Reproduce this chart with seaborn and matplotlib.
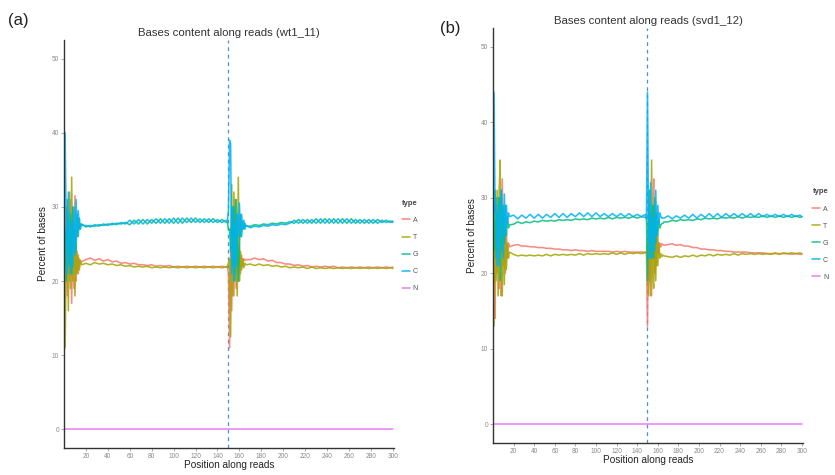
import numpy as np
import pandas as pd
import matplotlib
matplotlib.use("Agg")
import matplotlib.pyplot as plt
import seaborn as sns

# ---------------- data ----------------
positions = (list(range(1, 17)) + list(range(20, 149, 4)) +
             list(range(149, 167)) + list(range(170, 299, 4)) + [300])

types = ["A", "T", "G", "C", "N"]
type_colors = ["#F8766D", "#A3A500", "#00BF7D", "#00B0F6", "#E76BF3"]

n_positions = [1, 150, 300]
n_values = [0.0, 0.0, 0.0]

# panel (a) wt1_11
A_a = [22, 30, 18, 27, 20, 31, 17, 28, 19, 31.5, 20, 24, 21, 23, 22.5, 22.6,
       22.9, 23.1, 22.8, 23.0, 22.7, 22.9, 22.6, 22.7, 22.4, 22.5, 22.3, 22.4, 22.2, 22.2, 22.1, 22.2,
       22.0, 22.1, 22.0, 22.1, 21.9, 22.0, 21.9, 22.0, 21.9, 22.0, 21.9, 22.0, 21.9, 22.0, 21.9, 22.0, 21.9,
       22, 21, 11, 25, 16, 30, 18, 31, 19, 27, 20, 25, 21, 23.5, 22, 23, 22.8, 22.9,
       22.9, 23.1, 22.9, 23.0, 22.7, 22.8, 22.5, 22.5, 22.3, 22.3, 22.1, 22.2, 22.0, 22.1, 21.9, 22.0,
       21.9, 22.0, 21.9, 22.0, 21.8, 21.9, 21.8, 21.9, 21.8, 21.9, 21.8, 21.9, 21.8, 21.9, 21.8, 21.9, 21.8, 21.9]
T_a = [11, 23, 30, 16, 32, 19, 34, 20, 27, 18, 25, 21, 23.5, 21.5, 22.8, 22.2,
       22.4, 22.2, 22.5, 22.3, 22.4, 22.2, 22.3, 22.1, 22.2, 22.0, 22.1, 21.9, 22.0, 21.9, 22.0, 21.8,
       21.9, 21.8, 21.9, 21.8, 21.9, 21.8, 21.9, 21.8, 21.9, 21.8, 21.9, 21.8, 21.9, 21.8, 21.9, 21.8, 21.9,
       21.9, 22.5, 23, 12.5, 33, 18, 32, 21, 28, 18, 34, 20, 24, 21.5, 23, 21.8, 22.4, 22.2,
       22.3, 22.1, 22.3, 22.1, 22.2, 22.0, 22.1, 21.9, 22.0, 21.8, 21.9, 21.8, 21.9, 21.7, 21.9, 21.7,
       21.8, 21.7, 21.8, 21.7, 21.8, 21.7, 21.8, 21.7, 21.8, 21.7, 21.8, 21.7, 21.8, 21.7, 21.8, 21.7, 21.8, 21.7]
G_a = [27, 20, 31, 25, 22, 29, 21, 30, 24, 27, 24, 29, 26, 28.5, 27, 27.7,
       27.3, 27.5, 27.4, 27.6, 27.5, 27.7, 27.6, 27.8, 27.7, 27.9, 27.6, 28.2, 27.7, 28.3, 27.7, 28.3,
       27.8, 28.4, 27.8, 28.4, 27.8, 28.5, 27.8, 28.5, 27.9, 28.5, 27.9, 28.4, 27.9, 28.4, 27.9, 28.3, 27.9,
       28, 27, 27, 24, 30, 22, 30, 20, 31, 26, 20, 24.5, 29, 26, 28, 27, 27.8, 27.4,
       27.4, 27.6, 27.5, 27.7, 27.6, 27.8, 27.7, 27.9, 27.8, 28.0, 27.8, 28.3, 27.8, 28.3, 27.8, 28.4,
       27.8, 28.4, 27.8, 28.4, 27.8, 28.4, 27.8, 28.4, 27.8, 28.3, 27.8, 28.3, 27.8, 28.3, 27.9, 28.2, 27.9, 28.1]
C_a = [40, 27, 21, 32, 26, 21, 28, 22, 30, 23.5, 31, 26, 29.5, 27, 27.7, 27.5,
       27.5, 27.3, 27.6, 27.4, 27.7, 27.5, 27.8, 27.6, 27.9, 27.7, 28.2, 27.7, 28.3, 27.7, 28.3, 27.8,
       28.4, 27.8, 28.4, 27.8, 28.5, 27.8, 28.5, 27.9, 28.5, 27.9, 28.4, 27.9, 28.4, 27.9, 28.3, 27.9, 28.2,
       28.1, 29.5, 39, 38.5, 21, 30, 20, 28, 22, 29, 26, 30.5, 26, 29, 27, 28.2, 27, 27.5,
       27.2, 27.4, 27.3, 27.5, 27.4, 27.6, 27.5, 27.7, 27.6, 27.8, 28.2, 27.8, 28.3, 27.8, 28.3, 27.8,
       28.4, 27.8, 28.4, 27.8, 28.4, 27.8, 28.4, 27.8, 28.3, 27.8, 28.3, 27.8, 28.3, 27.8, 28.2, 27.9, 28.1, 27.9]

# panel (b) svd1_12
A_b = [20, 14, 29, 20, 30, 18, 20, 17, 32.5, 21, 27, 20, 25.5, 22, 24, 23.5,
       23.7, 23.8, 23.6, 23.6, 23.5, 23.5, 23.4, 23.4, 23.3, 23.3, 23.2, 23.2, 23.1, 23.1, 23.0, 23.1,
       23.0, 23.0, 22.9, 23.0, 22.9, 22.9, 22.9, 22.9, 22.8, 22.9, 22.8, 22.9, 22.8, 22.8, 22.8, 22.8, 22.8,
       22.8, 13, 30, 19, 28, 17, 26, 32.5, 20, 26, 21, 25, 22.5, 24, 23.5, 23.9, 23.8, 23.7,
       23.8, 23.9, 23.7, 23.8, 23.6, 23.6, 23.4, 23.4, 23.2, 23.2, 23.1, 23.1, 23.0, 23.0, 22.9, 22.9,
       22.8, 22.8, 22.8, 22.8, 22.7, 22.7, 22.7, 22.7, 22.6, 22.6, 22.6, 22.6, 22.6, 22.6, 22.5, 22.6, 22.5, 22.5]
T_b = [13, 27, 19, 31, 17, 31, 35, 21, 17, 28, 18.5, 26, 20.5, 24, 22, 22.8,
       22.5, 22.3, 22.4, 22.3, 22.4, 22.3, 22.4, 22.3, 22.5, 22.3, 22.5, 22.4, 22.5, 22.4, 22.5, 22.4,
       22.6, 22.4, 22.6, 22.5, 22.6, 22.5, 22.6, 22.5, 22.7, 22.5, 22.7, 22.5, 22.7, 22.6, 22.7, 22.6, 22.7,
       22.7, 24, 17, 28, 17, 35, 20, 18, 27, 19, 26, 21, 24, 22, 22.6, 22.2, 22.4, 22.3,
       22.2, 22.1, 22.3, 22.1, 22.3, 22.2, 22.4, 22.2, 22.4, 22.3, 22.5, 22.3, 22.5, 22.4, 22.5, 22.4,
       22.6, 22.4, 22.6, 22.5, 22.6, 22.5, 22.6, 22.5, 22.6, 22.5, 22.7, 22.5, 22.7, 22.6, 22.7, 22.6, 22.7, 22.6]
G_b = [23, 31, 22, 28, 24, 30, 19, 31, 23, 29, 24, 29, 25, 27.5, 26, 26.4,
       26.5, 26.8, 26.6, 26.8, 26.7, 26.9, 26.8, 27.0, 26.9, 27.0, 26.9, 27.1, 27.0, 27.1, 27.0, 27.2,
       27.1, 27.2, 27.1, 27.3, 27.2, 27.3, 27.2, 27.4, 27.2, 27.4, 27.3, 27.4, 27.3, 27.5, 27.3, 27.5, 27.4,
       27.3, 19, 27, 31, 23, 26, 29, 22, 30, 24, 28, 25, 27, 26, 26.4, 26.6, 26.6, 26.8,
       26.8, 27.0, 26.9, 27.1, 27.0, 27.1, 27.0, 27.2, 27.1, 27.3, 27.2, 27.3, 27.2, 27.4, 27.3, 27.4,
       27.3, 27.5, 27.3, 27.5, 27.4, 27.5, 27.4, 27.6, 27.4, 27.6, 27.4, 27.6, 27.4, 27.6, 27.4, 27.6, 27.4, 27.5]
C_b = [44, 28, 30, 21, 29, 21, 26, 31, 27.5, 22, 30.5, 25, 29, 26.5, 28, 27.5,
       27.7, 27.2, 27.7, 27.3, 27.8, 27.3, 27.8, 27.3, 27.8, 27.4, 27.9, 27.4, 27.9, 27.4, 27.9, 27.5,
       28.0, 27.5, 28.0, 27.5, 28.0, 27.5, 27.9, 27.5, 27.9, 27.5, 27.9, 27.5, 27.9, 27.5, 27.8, 27.5, 27.8,
       27.2, 44, 26, 22, 32, 22, 25, 27.5, 23, 31, 25, 29, 26.5, 28, 27.5, 27.3, 27.3, 27.3,
       27.6, 27.2, 27.6, 27.3, 27.7, 27.3, 27.8, 27.3, 27.8, 27.4, 27.9, 27.4, 27.9, 27.4, 27.9, 27.5,
       27.9, 27.5, 27.9, 27.5, 27.9, 27.5, 27.9, 27.5, 27.8, 27.5, 27.8, 27.5, 27.8, 27.5, 27.8, 27.5, 27.7, 27.5]

panel_titles = ["Bases content along reads (wt1_11)", "Bases content along reads (svd1_12)"]
panel_tags = ["(a)", "(b)"]
x_ticks = list(range(20, 301, 20))
y_ticks = [0, 10, 20, 30, 40, 50]
break_pos = 150


def long_frame(a, t, g, c):
    rows = []
    for name, vals in zip(["A", "T", "G", "C"], [a, t, g, c]):
        for p, v in zip(positions, vals):
            rows.append((p, v, name))
    for p, v in zip(n_positions, n_values):
        rows.append((p, v, "N"))
    return pd.DataFrame(rows, columns=["pos", "pct", "type"])


frames = [long_frame(A_a, T_a, G_a, C_a), long_frame(A_b, T_b, G_b, C_b)]

# ---------------- drawing ----------------
sns.set_style("white")
plt.rcParams["font.family"] = ["Liberation Sans", "DejaVu Sans"]

fig = plt.figure(figsize=(8.35, 4.75), dpi=100)
rects = [[64 / 835, 27 / 475, 330 / 835, 408 / 475],
         [493 / 835, 32 / 475, 310 / 835, 415 / 475]]
tag_xy = [(8 / 835, 1 - 21 / 475), (440 / 835, 1 - 28 / 475)]
leg_anchor = [(1.015, 0.615), (1.02, 0.62)]

for i in range(2):
    ax = fig.add_axes(rects[i])
    sns.lineplot(data=frames[i], x="pos", y="pct", hue="type", hue_order=types,
                 palette=type_colors, linewidth=1.15, alpha=0.85,
                 estimator=None, ax=ax)
    ax.axvline(break_pos, color="#4A90D9", linestyle=(0, (3, 3)), linewidth=0.9, zorder=0)
    ax.set_xlim(0, 301)
    ax.set_ylim(-2.5, 52.5)
    ax.set_xticks(x_ticks)
    ax.set_yticks(y_ticks)
    ax.tick_params(axis="both", labelsize=4.7, labelcolor="#8a8a8a", color="#8a8a8a",
                   length=2, width=0.5, pad=1.5, left=True, bottom=True)
    for s in ["top", "right"]:
        ax.spines[s].set_visible(False)
    for s in ["left", "bottom"]:
        ax.spines[s].set_color("#333333")
        ax.spines[s].set_linewidth(1.0)
    ax.set_xlabel("Position along reads", fontsize=7.2, color="#222222", labelpad=0)
    ax.set_ylabel("Percent of bases", fontsize=7.2, color="#222222", labelpad=3)
    ax.set_title(panel_titles[i], fontsize=8.2, color="#333333", pad=3)
    handles, labels = ax.get_legend_handles_labels()
    leg = ax.legend(handles, labels, title="type", loc="upper left",
                    bbox_to_anchor=leg_anchor[i], frameon=False, fontsize=5,
                    title_fontsize=5.5, handlelength=1.2, handletextpad=0.4,
                    labelspacing=1.45, borderaxespad=0)
    leg.get_title().set_fontweight("bold")
    leg.get_title().set_color("#444444")
    for txt in leg.get_texts():
        txt.set_color("#555555")
    fig.text(tag_xy[i][0], tag_xy[i][1], panel_tags[i], fontsize=12, color="#222222",
             ha="left", va="center")

fig.savefig("out.png", dpi=100, facecolor="white")
